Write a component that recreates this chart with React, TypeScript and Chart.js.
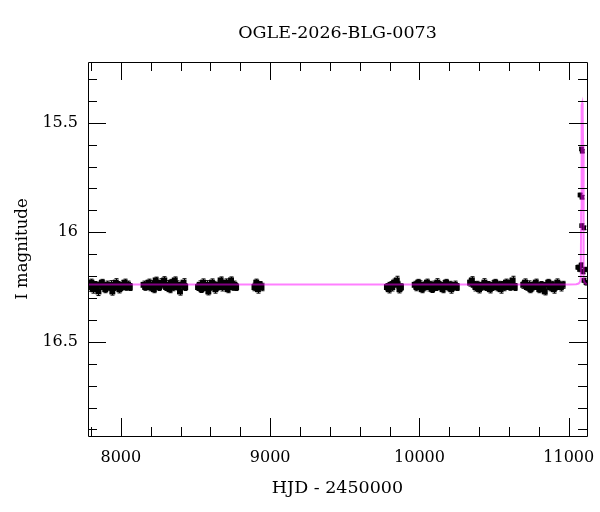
import { useEffect, useRef } from "react";
import { Chart, registerables } from "chart.js";

Chart.register(...registerables);

const TITLE = "OGLE-2026-BLG-0073";
const X_LABEL = "HJD - 2450000";
const Y_LABEL = "I magnitude";

const X_MIN = 7780;
const X_MAX = 11122;
const Y_MIN = 15.223;
const Y_MAX = 16.93;
const X_MAJOR = [8000, 9000, 10000, 11000];
const Y_MAJOR = [15.5, 16, 16.5];

// [HJD-2450000, I mag, error]
const season1: number[][] = [
  [7781, 16.24, 0.016], [7792, 16.25, 0.019], [7803, 16.23, 0.016], [7815, 16.26, 0.018],
  [7826, 16.24, 0.015], [7838, 16.25, 0.017], [7850, 16.27, 0.019], [7861, 16.24, 0.016],
  [7873, 16.23, 0.015], [7885, 16.25, 0.018], [7896, 16.26, 0.016], [7908, 16.24, 0.017],
  [7920, 16.25, 0.015], [7931, 16.24, 0.019], [7943, 16.27, 0.017], [7955, 16.25, 0.016],
  [7966, 16.23, 0.018], [7978, 16.24, 0.015], [7990, 16.26, 0.017], [8001, 16.25, 0.016],
  [8013, 16.24, 0.019], [8025, 16.23, 0.016], [8036, 16.25, 0.015], [8048, 16.24, 0.017],
  [8060, 16.25, 0.016],
];
const season2: number[][] = [
  [8152, 16.24, 0.017], [8163, 16.25, 0.015], [8175, 16.24, 0.018], [8186, 16.23, 0.016],
  [8198, 16.25, 0.017], [8210, 16.24, 0.019], [8221, 16.26, 0.016], [8233, 16.22, 0.015],
  [8245, 16.24, 0.017], [8256, 16.25, 0.016], [8268, 16.23, 0.018], [8280, 16.24, 0.015],
  [8291, 16.22, 0.017], [8303, 16.25, 0.016], [8315, 16.24, 0.019], [8326, 16.26, 0.016],
  [8338, 16.23, 0.015], [8350, 16.25, 0.017], [8361, 16.22, 0.016], [8373, 16.24, 0.018],
  [8385, 16.25, 0.015], [8396, 16.27, 0.017], [8408, 16.24, 0.016], [8420, 16.23, 0.018],
  [8431, 16.25, 0.016],
];
const season3: number[][] = [
  [8517, 16.25, 0.016], [8528, 16.24, 0.018], [8540, 16.26, 0.015], [8551, 16.23, 0.017],
  [8563, 16.25, 0.016], [8575, 16.24, 0.019], [8586, 16.27, 0.016], [8598, 16.25, 0.015],
  [8610, 16.23, 0.017], [8621, 16.24, 0.016], [8633, 16.26, 0.018], [8645, 16.25, 0.015],
  [8656, 16.24, 0.017], [8668, 16.22, 0.016], [8680, 16.25, 0.018], [8691, 16.24, 0.015],
  [8703, 16.23, 0.017], [8715, 16.26, 0.016], [8726, 16.24, 0.019], [8738, 16.22, 0.016],
  [8750, 16.25, 0.015], [8761, 16.24, 0.017], [8772, 16.25, 0.016],
];
const season4: number[][] = [
  [8895, 16.25, 0.017], [8907, 16.23, 0.016], [8918, 16.26, 0.018], [8930, 16.24, 0.015],
  [8942, 16.25, 0.017],
];
const season5: number[][] = [
  [9782, 16.25, 0.016], [9794, 16.26, 0.017], [9806, 16.24, 0.015], [9818, 16.25, 0.018],
  [9830, 16.23, 0.016], [9848, 16.22, 0.019], [9854, 16.24, 0.016], [9866, 16.26, 0.017],
  [9876, 16.25, 0.015],
];
const season6: number[][] = [
  [9968, 16.24, 0.016], [9980, 16.25, 0.017], [9992, 16.23, 0.015], [10003, 16.24, 0.018],
  [10015, 16.26, 0.016], [10027, 16.25, 0.017], [10038, 16.24, 0.015], [10050, 16.23, 0.016],
  [10062, 16.25, 0.018], [10073, 16.24, 0.016], [10085, 16.26, 0.015], [10097, 16.24, 0.017],
  [10108, 16.25, 0.016], [10120, 16.23, 0.018], [10132, 16.24, 0.015], [10143, 16.25, 0.017],
  [10155, 16.26, 0.016], [10167, 16.24, 0.018], [10178, 16.23, 0.015], [10190, 16.25, 0.017],
  [10202, 16.24, 0.016], [10213, 16.26, 0.018], [10225, 16.25, 0.015], [10237, 16.24, 0.017],
  [10250, 16.25, 0.016],
];
const season7: number[][] = [
  [10339, 16.23, 0.016], [10351, 16.22, 0.017], [10363, 16.24, 0.015], [10375, 16.25, 0.018],
  [10387, 16.24, 0.016], [10399, 16.26, 0.017], [10411, 16.25, 0.015], [10423, 16.24, 0.016],
  [10435, 16.23, 0.018], [10447, 16.25, 0.016], [10459, 16.24, 0.015], [10471, 16.26, 0.017],
  [10483, 16.25, 0.016], [10495, 16.24, 0.018], [10507, 16.23, 0.015], [10519, 16.25, 0.017],
  [10531, 16.24, 0.016], [10543, 16.26, 0.018], [10555, 16.24, 0.015], [10567, 16.25, 0.017],
  [10579, 16.23, 0.016], [10591, 16.24, 0.018], [10603, 16.25, 0.015], [10615, 16.23, 0.017],
  [10624, 16.22, 0.019], [10638, 16.25, 0.016],
];
const season8: number[][] = [
  [10695, 16.24, 0.016], [10707, 16.23, 0.017], [10719, 16.25, 0.015], [10731, 16.24, 0.018],
  [10743, 16.26, 0.016], [10755, 16.25, 0.017], [10767, 16.24, 0.015], [10779, 16.23, 0.016],
  [10791, 16.25, 0.018], [10803, 16.26, 0.016], [10815, 16.24, 0.015], [10827, 16.25, 0.017],
  [10839, 16.27, 0.016], [10851, 16.24, 0.018], [10863, 16.23, 0.015], [10875, 16.25, 0.017],
  [10887, 16.24, 0.016], [10899, 16.26, 0.018], [10911, 16.25, 0.015], [10923, 16.23, 0.017],
  [10935, 16.24, 0.016], [10947, 16.25, 0.018], [10959, 16.24, 0.016],
];
// the event season
const season9: number[][] = [
  [11060, 16.16, 0.01], [11072, 16.17, 0.01], [11075, 15.83, 0.008], [11082, 16.15, 0.01],
  [11085, 15.62, 0.007], [11086, 15.97, 0.008], [11088, 15.84, 0.008], [11090, 15.63, 0.007],
  [11095, 16.18, 0.01], [11100, 15.98, 0.008], [11101, 16.22, 0.01], [11108, 16.17, 0.01],
  [11115, 16.23, 0.011],
];

const BASE_SEASONS = [season1, season2, season3, season4, season5, season6, season7, season8];
const SEASONS = [...BASE_SEASONS, season9];

// model light curve
const modelT = [7780, 9000, 10500, 11000, 11050, 11066, 11074, 11079, 11081, 11082.5, 11084, 11086,
  11088, 11090, 11092, 11094, 11096, 11097.5, 11099, 11101, 11105, 11112, 11122];
const modelMag = [16.238, 16.238, 16.238, 16.238, 16.237, 16.234, 16.228, 16.215, 16.15, 15.9, 15.6,
  15.46, 15.42, 15.41, 15.42, 15.46, 15.6, 15.9, 16.15, 16.215, 16.228, 16.234, 16.236];

const FONT = "'DejaVu Serif', serif";

const errorBarPlugin = {
  id: "errorBars",
  beforeDatasetsDraw(chart: any) {
    const { ctx, scales, chartArea } = chart;
    const xs = scales.x;
    const ys = scales.y;
    ctx.save();
    ctx.beginPath();
    ctx.rect(chartArea.left, chartArea.top, chartArea.right - chartArea.left, chartArea.bottom - chartArea.top);
    ctx.clip();
    ctx.strokeStyle = "#000";
    ctx.lineWidth = 1;
    ctx.beginPath();
    SEASONS.forEach((s) =>
      s.forEach(([t, m, e]) => {
        const px = Math.round(xs.getPixelForValue(t)) + 0.5;
        const y1 = ys.getPixelForValue(m - e);
        const y2 = ys.getPixelForValue(m + e);
        ctx.moveTo(px, y1);
        ctx.lineTo(px, y2);
        ctx.moveTo(px - 2, y1);
        ctx.lineTo(px + 2, y1);
        ctx.moveTo(px - 2, y2);
        ctx.lineTo(px + 2, y2);
      })
    );
    ctx.stroke();
    ctx.restore();
  },
};

const frameTicksPlugin = {
  id: "frameTicks",
  afterDraw(chart: any) {
    const { ctx, scales, chartArea } = chart;
    const { left, right, top, bottom } = chartArea;
    const xs = scales.x;
    const ys = scales.y;
    const MAJ = 18;
    const MIN = 9;
    ctx.save();
    ctx.strokeStyle = "#000";
    ctx.lineWidth = 1;
    ctx.beginPath();
    ctx.rect(Math.round(left) + 0.5, Math.round(top) + 0.5, Math.round(right - left), Math.round(bottom - top));
    ctx.stroke();
    ctx.beginPath();
    for (let k = Math.ceil(X_MIN / 200); k * 200 <= X_MAX; k++) {
      const v = k * 200;
      const len = v % 1000 === 0 ? MAJ : MIN;
      const px = Math.round(xs.getPixelForValue(v)) + 0.5;
      ctx.moveTo(px, bottom);
      ctx.lineTo(px, bottom - len);
      ctx.moveTo(px, top);
      ctx.lineTo(px, top + len);
    }
    for (let k = Math.ceil(Y_MIN * 10); k <= Math.floor(Y_MAX * 10); k++) {
      const v = k / 10;
      const len = k % 5 === 0 ? MAJ : MIN;
      const py = Math.round(ys.getPixelForValue(v)) + 0.5;
      ctx.moveTo(left, py);
      ctx.lineTo(left + len, py);
      ctx.moveTo(right, py);
      ctx.lineTo(right - len, py);
    }
    ctx.stroke();
    // title centred over the plot area
    ctx.fillStyle = "#000";
    ctx.font = `17.5px ${FONT}`;
    ctx.textAlign = "center";
    ctx.textBaseline = "middle";
    ctx.fillText(TITLE, (left + right) / 2, 33);
    ctx.restore();
  },
};

export default function App() {
  const ref = useRef<HTMLCanvasElement | null>(null);

  useEffect(() => {
    if (!ref.current) return;
    const basePoints = BASE_SEASONS.flatMap((s) => s.map(([t, m]) => ({ x: t, y: m })));
    const eventPoints = season9.map(([t, m]) => ({ x: t, y: m }));
    const model = modelT.map((t, i) => ({ x: t, y: modelMag[i] }));
    const chart = new Chart(ref.current, {
      type: "scatter",
      data: {
        datasets: [
          {
            label: "model",
            data: model,
            showLine: true,
            borderColor: "rgba(255,0,255,0.5)",
            borderWidth: 2,
            pointRadius: 0,
            tension: 0,
            order: 0,
          } as any,
          {
            label: "OGLE baseline",
            data: basePoints,
            pointStyle: "rect",
            pointRadius: 4.2,
            backgroundColor: "#000",
            borderWidth: 0,
            order: 1,
          } as any,
          {
            label: "OGLE event",
            data: eventPoints,
            pointStyle: "rect",
            pointRadius: 3.3,
            backgroundColor: "#000",
            borderWidth: 0,
            order: 1,
          } as any,
        ],
      },
      options: {
        responsive: false,
        animation: false,
        devicePixelRatio: 1,
        layout: { padding: { left: 0, right: 13, top: 62, bottom: 0 } },
        plugins: {
          legend: { display: false },
          tooltip: { enabled: false },
          title: { display: false },
        },
        scales: {
          x: {
            type: "linear",
            min: X_MIN,
            max: X_MAX,
            grid: { display: false, drawTicks: false },
            border: { display: false },
            ticks: {
              color: "#000",
              font: { family: FONT, size: 16 },
              padding: 12,
              maxRotation: 0,
              autoSkip: false,
              callback: (v: any) => String(v),
            },
            afterBuildTicks: (axis: any) => {
              axis.ticks = X_MAJOR.map((v) => ({ value: v }));
            },
            afterFit: (axis: any) => {
              axis.height = 76;
              axis.paddingLeft = 0;
              axis.paddingRight = 0;
            },
            title: {
              display: true,
              text: X_LABEL,
              color: "#000",
              font: { family: FONT, size: 17.5 },
              padding: { top: 0, bottom: 13 },
            },
          },
          y: {
            type: "linear",
            reverse: true,
            min: Y_MIN,
            max: Y_MAX,
            grid: { display: false, drawTicks: false },
            border: { display: false },
            ticks: {
              color: "#000",
              font: { family: FONT, size: 16 },
              padding: 10,
              autoSkip: false,
              callback: (v: any) => String(v),
            },
            afterBuildTicks: (axis: any) => {
              axis.ticks = Y_MAJOR.map((v) => ({ value: v }));
            },
            afterFit: (axis: any) => {
              axis.width = 88;
              axis.paddingTop = 0;
              axis.paddingBottom = 0;
            },
            title: {
              display: true,
              text: Y_LABEL,
              color: "#000",
              font: { family: FONT, size: 16.5 },
              padding: { top: 12.4, bottom: 0 },
            },
          },
        },
      } as any,
      plugins: [errorBarPlugin, frameTicksPlugin],
    });
    return () => chart.destroy();
  }, []);

  return (
    <div style={{ position: "fixed", left: 0, top: 0, width: 600, height: 512, background: "#fff" }}>
      <canvas ref={ref} width={600} height={512} />
    </div>
  );
}
